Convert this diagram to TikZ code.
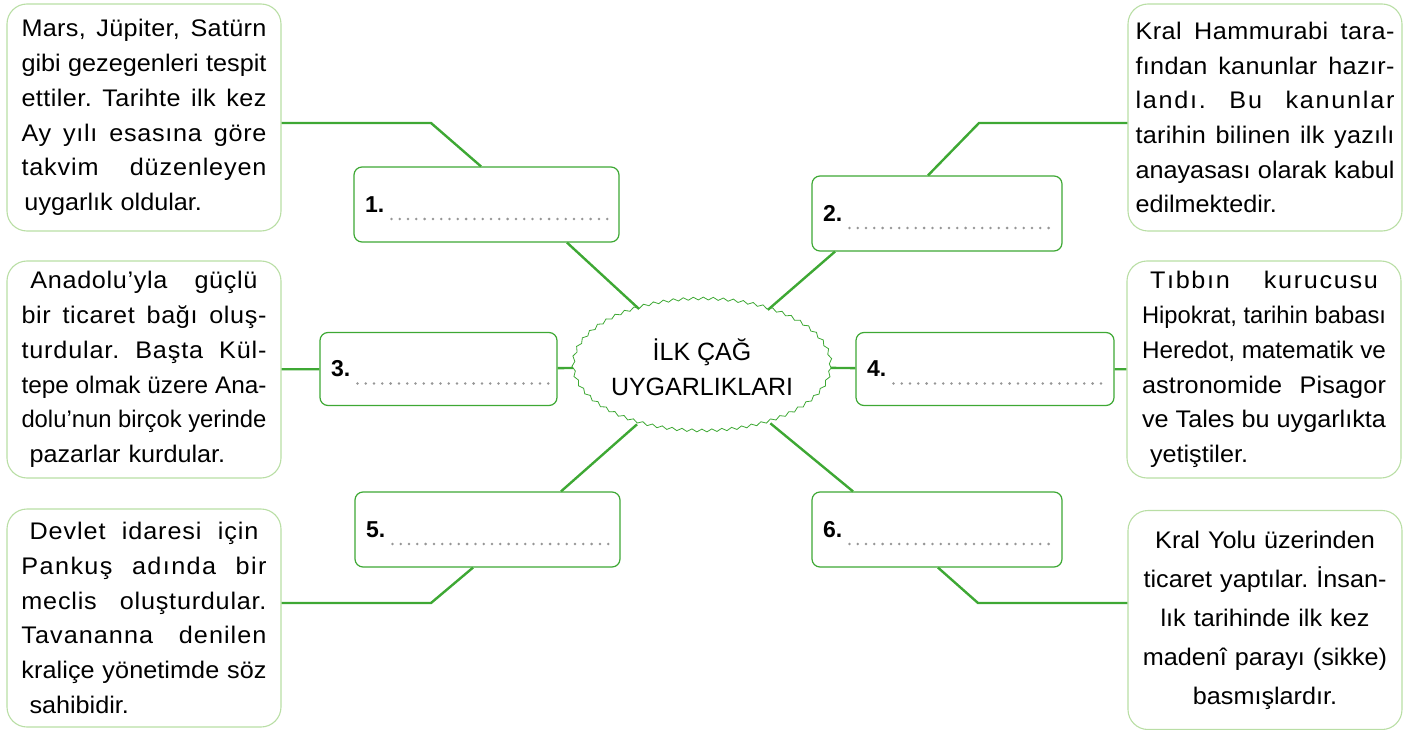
\documentclass[tikz,border=0pt]{standalone}
\usepackage{fontspec}
\usepackage{graphicx}
\setmainfont{Liberation Sans}
\newfontfamily\boxfont[FakeStretch=1.05]{Liberation Sans}
\usetikzlibrary{shapes.geometric,decorations.pathmorphing}

\definecolor{linkgreen}{RGB}{62,168,52}
\definecolor{boxgreen}{RGB}{185,222,165}
\definecolor{dotgray}{RGB}{150,150,150}

% one justified line (optional indent on both sides),
% half of the gap goes into letter spacing, half into word spaces
\newlength\jlw
\newlength\jlt
\newcount\jln
\def\jlcount#1{\jln=0 \jlcountloop#1\jlend}
\def\jlcountloop#1{\ifx#1\jlend\else\advance\jln by 1 \expandafter\jlcountloop\fi}
\newcommand\jl[2][0pt]{\hspace*{#1}\jlt=\dimexpr\linewidth-2\dimexpr#1\relax\relax
  \settowidth\jlw{\spaceskip=0pt\xspaceskip=0pt #2}%
  \ifdim\jlw>\jlt
    \resizebox{\jlt}{\height}{\spaceskip=0pt\xspaceskip=0pt #2}%
  \else
    \jlcount{#2}%
    \pgfmathsetmacro\jlls{50*(\the\dimexpr\jlt-\jlw\relax)/(\the\jln*24)}%
    \makebox[\jlt][s]{\addfontfeature{LetterSpace=\jlls}\spaceskip=0pt\xspaceskip=0pt #2}\fi}

\begin{document}
\begin{tikzpicture}[x=1pt,y=-1pt]

\tikzset{info/.style = {shape=rectangle,draw=boxgreen,line width=1.1pt,rounded corners=20pt,minimum width=274pt,inner xsep=8pt,align=left,font=\boxfont\fontsize{24}{34.7}\selectfont\frenchspacing}}
\tikzset{answer/.style = {shape=rectangle,draw=linkgreen,line width=1.2pt,rounded corners=8pt,minimum height=75pt,inner xsep=11pt,align=left,font=\bfseries\fontsize{23}{26}\selectfont}}
\tikzset{hub/.style = {shape=ellipse,draw=linkgreen,line width=0.8pt,minimum width=230pt,minimum height=132pt,inner sep=0pt,align=center,decorate,decoration={snake,segment length=10pt,amplitude=1.4pt},font=\fontsize{25}{35}\selectfont}}
\tikzset{link/.style = {draw=linkgreen,line width=2.4pt}}
\tikzset{dots/.style = {draw=dotgray,line width=2.8pt,line cap=round,dash pattern=on 0pt off 8.3pt}}

\useasboundingbox (0,0) rectangle (1408,730);

% centre
\node[hub] (hub) at (702,367) {İLK ÇAĞ\\UYGARLIKLARI};

% answer boxes
\node[answer,minimum width=265pt,text width=243pt] (a1) at (486.5,204.5) {1.};
\node[answer,minimum width=250pt,text width=228pt] (a2) at (937,213.5) {2.};
\node[answer,minimum width=237pt,text width=215pt,minimum height=73pt] (a3) at (438.5,369) {3.};
\node[answer,minimum width=258pt,text width=236pt,minimum height=73pt] (a4) at (985,369) {4.};
\node[answer,minimum width=265pt,text width=243pt] (a5) at (487.5,529.5) {5.};
\node[answer,minimum width=250pt,text width=228pt] (a6) at (937,529.5) {6.};

% info boxes
\node[info,minimum height=227pt,text width=245pt] (ta) at (144,117.5) {%
\jl{Mars, Jüpiter, Satürn}\\
\jl{gibi gezegenleri tespit}\\
\jl{ettiler. Tarihte ilk kez}\\
\jl{Ay yılı esasına göre}\\
\jl{takvim \ düzenleyen}\\
\hspace*{3pt}uygarlık oldular.};
\node[info,minimum height=217pt,text width=245pt] (tb) at (144,369.5) {%
\jl[9pt]{Anadolu’yla \ güçlü}\\
\jl{bir ticaret bağı oluş-}\\
\jl{turdular. Başta Kül-}\\
\jl{tepe olmak üzere Ana-}\\
\jl{dolu’nun birçok yerinde}\\
\hspace*{8pt}pazarlar kurdular.};
\node[info,minimum height=218pt,text width=245pt] (tc) at (144,618) {%
\jl[8pt]{Devlet idaresi için}\\
\jl{Pankuş adında bir}\\
\jl{meclis oluşturdular.}\\
\jl{Tavananna denilen}\\
\jl{kraliçe yönetimde söz}\\
\hspace*{8pt}sahibidir.};
\node[info,minimum height=227pt,text width=259pt,inner xsep=4pt] (td) at (1265,117.5) {%
\jl{Kral Hammurabi tara-}\\
\jl{fından kanunlar hazır-}\\
\jl{landı. Bu kanunlar}\\
\jl{tarihin bilinen ilk yazılı}\\
\jl{anayasası olarak kabul}\\
edilmektedir.};
\node[info,minimum height=217pt,text width=244pt] (te) at (1264,369.5) {%
\jl[8pt]{Tıbbın kurucusu}\\
\jl{Hipokrat, tarihin babası}\\
\jl{Heredot, matematik ve}\\
\jl{astronomide \ Pisagor}\\
\jl{ve Tales bu uygarlıkta}\\
\hspace*{8pt}yetiştiler.};
\node[info,minimum height=219pt,text width=250pt,align=center,font=\boxfont\fontsize{24}{39}\selectfont\frenchspacing] (tf) at (1265,620) {%
Kral Yolu üzerinden\\
ticaret yaptılar. İnsan-\\
lık tarihinde ilk kez\\
madenî parayı (sikke)\\
basmışlardır.};

% answer lines
\draw[dots] ([shift={(38pt,-14.5pt)}]a1.west) -- ([shift={(-9pt,-14.5pt)}]a1.east);
\draw[dots] ([shift={(38pt,-14.5pt)}]a2.west) -- ([shift={(-9pt,-14.5pt)}]a2.east);
\draw[dots] ([shift={(38pt,-14.5pt)}]a3.west) -- ([shift={(-9pt,-14.5pt)}]a3.east);
\draw[dots] ([shift={(38pt,-14.5pt)}]a4.west) -- ([shift={(-9pt,-14.5pt)}]a4.east);
\draw[dots] ([shift={(38pt,-14.5pt)}]a5.west) -- ([shift={(-9pt,-14.5pt)}]a5.east);
\draw[dots] ([shift={(38pt,-14.5pt)}]a6.west) -- ([shift={(-9pt,-14.5pt)}]a6.east);

%links
\coordinate (k1) at (431,123);
\coordinate (k2) at (979,123);
\coordinate (k5) at (431,603);
\coordinate (k6) at (978,603);

\draw[link] (ta.east |- k1) -- (k1) -- ([xshift=-5.5pt]a1.north);
\draw[link] ([xshift=80.5pt]a1.south) -- (hub);
\draw[link] (td.west |- k2) -- (k2) -- ([xshift=-9pt]a2.north);
\draw[link] ([xshift=-102pt]a2.south) -- (hub);
\draw[link] (tb) -- (a3);
\draw[link] (a3) -- (hub);
\draw[link] (hub) -- (a4);
\draw[link] (a4) -- (te);
\draw[link] (hub) -- ([xshift=73.5pt]a5.north);
\draw[link] ([xshift=-14.5pt]a5.south) -- (k5) -- (tc.east |- k5);
\draw[link] (hub) -- ([xshift=-84pt]a6.north);
\draw[link] ([xshift=1pt]a6.south) -- (k6) -- (tf.west |- k6);
\end{tikzpicture}
\end{document}
